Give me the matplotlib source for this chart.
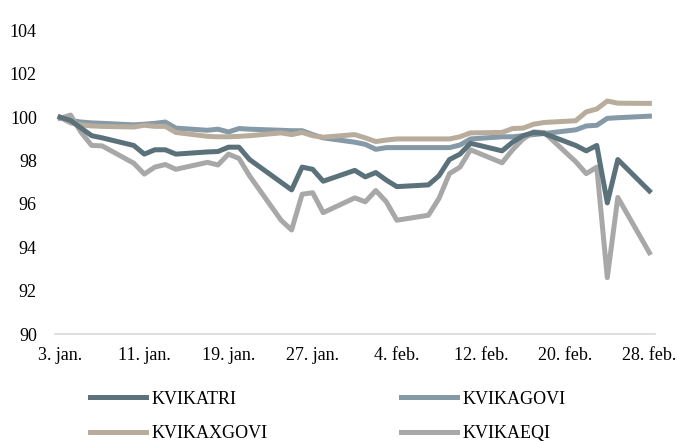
import numpy as np
import pandas as pd
import matplotlib
matplotlib.use("Agg")
import matplotlib.pyplot as plt

# trading days, jan-feb 2022
dates = pd.to_datetime([
    "2022-01-03", "2022-01-04", "2022-01-05", "2022-01-06", "2022-01-07",
    "2022-01-10", "2022-01-11", "2022-01-12", "2022-01-13", "2022-01-14",
    "2022-01-17", "2022-01-18", "2022-01-19", "2022-01-20", "2022-01-21",
    "2022-01-24", "2022-01-25", "2022-01-26", "2022-01-27", "2022-01-28",
    "2022-01-31", "2022-02-01", "2022-02-02", "2022-02-03", "2022-02-04",
    "2022-02-07", "2022-02-08", "2022-02-09", "2022-02-10", "2022-02-11",
    "2022-02-14", "2022-02-15", "2022-02-16", "2022-02-17", "2022-02-18",
    "2022-02-21", "2022-02-22", "2022-02-23", "2022-02-24", "2022-02-25",
    "2022-02-28",
])

kvikatri = [100.0, 99.85, 99.5, 99.15, 99.05,
            98.7, 98.3, 98.5, 98.5, 98.3,
            98.4, 98.42, 98.62, 98.62, 98.05,
            97.0, 96.65, 97.7, 97.6, 97.05,
            97.55, 97.25, 97.45, 97.1, 96.8,
            96.88, 97.3, 98.05, 98.3, 98.8,
            98.45, 98.85, 99.15, 99.3, 99.25,
            98.7, 98.45, 98.7, 96.05, 98.05,
            96.6]

kvikagovi = [100.0, 99.85, 99.78, 99.74, 99.72,
             99.65, 99.68, 99.72, 99.78, 99.5,
             99.4, 99.45, 99.32, 99.48, 99.45,
             99.4, 99.38, 99.38, 99.2, 99.05,
             98.85, 98.75, 98.52, 98.6, 98.6,
             98.6, 98.6, 98.6, 98.72, 99.0,
             99.1, 99.1, 99.15, 99.2, 99.25,
             99.42, 99.6, 99.63, 99.95, 99.98,
             100.05]

kvikaxgovi = [100.0, 99.74, 99.65, 99.6, 99.58,
              99.55, 99.63, 99.58, 99.58, 99.3,
              99.12, 99.1, 99.1, 99.12, 99.15,
              99.28, 99.2, 99.3, 99.15, 99.08,
              99.2, 99.05, 98.88, 98.95, 99.0,
              99.0, 99.0, 99.0, 99.1, 99.28,
              99.3, 99.48, 99.5, 99.68, 99.76,
              99.84, 100.25, 100.38, 100.75, 100.65,
              100.64]

kvikaeqi = [99.95, 100.1, 99.3, 98.7, 98.68,
            97.88, 97.38, 97.7, 97.82, 97.6,
            97.92, 97.8, 98.3, 98.1, 97.3,
            95.25, 94.8, 96.45, 96.52, 95.6,
            96.28, 96.1, 96.62, 96.1, 95.25,
            95.48, 96.25, 97.4, 97.7, 98.5,
            97.9, 98.5, 99.0, 99.32, 99.3,
            97.95, 97.4, 97.7, 92.6, 96.3,
            93.75]

tick_dates = pd.to_datetime(["2022-01-03", "2022-01-11", "2022-01-19", "2022-01-27",
                             "2022-02-04", "2022-02-12", "2022-02-20", "2022-02-28"])
tick_labels = ["3. jan.", "11. jan.", "19. jan.", "27. jan.",
               "4. feb.", "12. feb.", "20. feb.", "28. feb."]

plt.rcParams["font.family"] = ["Liberation Serif", "DejaVu Serif"]

fig = plt.figure(figsize=(6.77, 4.43), dpi=100)
ax = fig.add_axes([0.081, 0.246, 0.886, 0.685])

lw = 3.6
l1, = ax.plot(dates, kvikatri, color="#5b727b", lw=lw, label="KVIKATRI", zorder=3)
l2, = ax.plot(dates, kvikagovi, color="#8599a7", lw=lw, label="KVIKAGOVI", zorder=2)
l3, = ax.plot(dates, kvikaxgovi, color="#b8ad9c", lw=lw, label="KVIKAXGOVI", zorder=2)
l4, = ax.plot(dates, kvikaeqi, color="#a8a8a8", lw=lw, label="KVIKAEQI", zorder=2)

ax.set_ylim(90, 104)
ax.set_yticks(np.arange(90, 105, 2))
ax.set_xlim(dates[0] - pd.Timedelta(hours=12), dates[-1] + pd.Timedelta(hours=12))
ax.set_xticks(tick_dates)
ax.set_xticklabels(tick_labels)

for s in ["top", "right", "left"]:
    ax.spines[s].set_visible(False)
ax.spines["bottom"].set_color("#d9d9d9")
ax.spines["bottom"].set_linewidth(1.2)
ax.tick_params(axis="both", length=0, labelsize=13, colors="black")
ax.tick_params(axis="y", pad=13)
ax.tick_params(axis="x", pad=9)

# legend filled column-wise, so order for row-wise reading
fig.legend([l1, l3, l2, l4], ["KVIKATRI", "KVIKAXGOVI", "KVIKAGOVI", "KVIKAEQI"],
           ncol=2, loc="upper left", bbox_to_anchor=(0.133, 0.118),
           frameon=False, fontsize=13, handlelength=3.1, handletextpad=0.3,
           columnspacing=7.4, labelspacing=0.95, borderpad=0, borderaxespad=0)

fig.savefig("out.png", dpi=100)
